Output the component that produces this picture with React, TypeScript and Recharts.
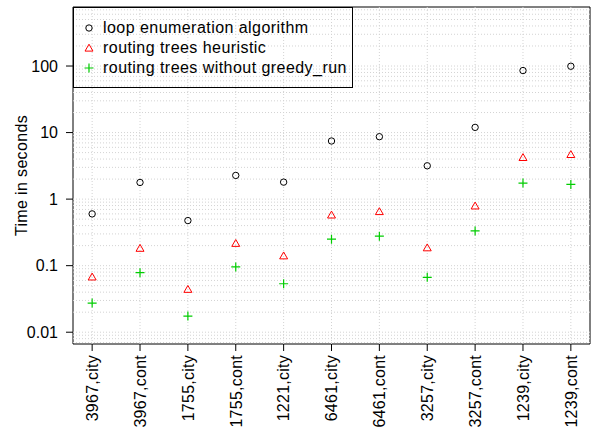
import React from 'react';
import {
  ComposedChart,
  Scatter,
  XAxis,
  YAxis,
  ReferenceLine,
  ReferenceArea,
} from 'recharts';

const categories = [
  '3967,city',
  '3967,cont',
  '1755,city',
  '1755,cont',
  '1221,city',
  '6461,city',
  '6461,cont',
  '3257,city',
  '3257,cont',
  '1239,city',
  '1239,cont',
];

const loopEnumeration = [0.6, 1.78, 0.476, 2.27, 1.8, 7.47, 8.67, 3.17, 11.97, 85.5, 99.3];
const routingHeuristic = [0.066, 0.178, 0.043, 0.211, 0.137, 0.563, 0.634, 0.181, 0.77, 4.12, 4.57];
const withoutGreedyRun = [0.0274, 0.0785, 0.0175, 0.0956, 0.0535, 0.25, 0.277, 0.0669, 0.333, 1.74, 1.66];

const yTicks = [0.01, 0.1, 1, 10, 100];
const yTickLabels = ['0.01', '0.1', '1', '10', '100'];
const yGridValues = [
  0.007, 0.008, 0.009,
  0.01, 0.02, 0.03, 0.04, 0.05, 0.06, 0.07, 0.08, 0.09,
  0.1, 0.2, 0.3, 0.4, 0.5, 0.6, 0.7, 0.8, 0.9,
  1, 2, 3, 4, 5, 6, 7, 8, 9,
  10, 20, 30, 40, 50, 60, 70, 80, 90,
  100, 200, 300, 400, 500, 600, 700,
];
const yDomain = [0.00665, 771];
const xDomain = [0.6, 11.4];
const xTicks = categories.map((_, i) => i + 1);

const seriesNames = [
  'loop enumeration algorithm',
  'routing trees heuristic',
  'routing trees without greedy_run',
];

const toPoints = (vals: number[]) => vals.map((v, i) => ({ x: i + 1, y: v }));
const loopData = toPoints(loopEnumeration);
const heurData = toPoints(routingHeuristic);
const greedyData = toPoints(withoutGreedyRun);

const FONT = '"Liberation Sans", Arial, Helvetica, sans-serif';
const GREEN = '#00CD00';
const RED = '#FF0000';

const CircleShape = (p: any) => (
  <circle cx={p.cx} cy={p.cy} r={3.2} fill="none" stroke="#000" strokeWidth={1} />
);
const triPath = (cx: number, cy: number) => {
  const r = 4.6;
  const hx = r * Math.sqrt(3) / 2;
  return `M${cx},${cy - r}L${cx + hx},${cy + r / 2}L${cx - hx},${cy + r / 2}Z`;
};
const TriangleShape = (p: any) => (
  <path d={triPath(p.cx, p.cy)} fill="none" stroke={RED} strokeWidth={1} />
);
const PlusShape = (p: any) => (
  <path
    d={`M${p.cx - 4.5},${p.cy}H${p.cx + 4.5}M${p.cx},${p.cy - 4.5}V${p.cy + 4.5}`}
    stroke={GREEN}
    strokeWidth={1.2}
    fill="none"
  />
);

const XTick = (p: any) => {
  const { x, y, payload } = p;
  const label = categories[payload.value - 1];
  return (
    <text
      x={x}
      y={y}
      transform={`rotate(-90, ${x}, ${y})`}
      textAnchor="end"
      dy="0.36em"
      fontSize={16}
      letterSpacing={0.25}
      fontFamily={FONT}
      fill="#000"
    >
      {label}
    </text>
  );
};

const YLabel = (p: any) => {
  const vb = p.viewBox || {};
  const cx = (vb.x || 0) + 27;
  const cy = (vb.y || 0) + (vb.height || 0) / 2;
  return (
    <text
      x={cx}
      y={cy}
      transform={`rotate(-90, ${cx}, ${cy})`}
      textAnchor="middle"
      fontSize={16}
      letterSpacing={0.35}
      fontFamily={FONT}
      fill="#000"
    >
      Time in seconds
    </text>
  );
};

const LegendIcon = ({ kind }: { kind: number }) => (
  <svg width={12} height={12} style={{ position: 'absolute', left: 9, top: 4 }}>
    {kind === 0 && <circle cx={6} cy={6} r={3.2} fill="none" stroke="#000" strokeWidth={1} />}
    {kind === 1 && <path d={triPath(6, 6.8)} fill="none" stroke={RED} strokeWidth={1} />}
    {kind === 2 && (
      <path d="M1.5,6H10.5M6,1.5V10.5" stroke={GREEN} strokeWidth={1.2} fill="none" />
    )}
  </svg>
);

export default function App() {
  return (
    <div style={{ position: 'absolute', left: 0, top: 0, width: 593, height: 435, background: '#fff' }}>
      <ComposedChart
        width={593}
        height={435}
        margin={{ top: 7, right: 3, bottom: 0, left: 0 }}
      >
        <XAxis
          type="number"
          dataKey="x"
          domain={xDomain}
          ticks={xTicks}
          interval={0}
          allowDataOverflow
          height={91}
          tickSize={7}
          tickMargin={4}
          axisLine={false}
          tickLine={{ stroke: '#000', strokeWidth: 1 }}
          tick={<XTick />}
        />
        <YAxis
          type="number"
          dataKey="y"
          scale="log"
          domain={yDomain}
          ticks={yTicks}
          interval={0}
          allowDataOverflow
          width={73}
          tickSize={7}
          tickMargin={8}
          axisLine={false}
          tickLine={{ stroke: '#000', strokeWidth: 1 }}
          tick={{ fontSize: 16, fontFamily: FONT, fill: '#000' }}
          tickFormatter={(v: number) => yTickLabels[yTicks.indexOf(v)] ?? String(v)}
          label={<YLabel />}
        />
        {yGridValues.map((v) => (
          <ReferenceLine
            key={'h' + v}
            y={v}
            stroke="#d3d3d3"
            strokeDasharray="1 2"
            strokeWidth={1}
          />
        ))}
        {xTicks.map((v) => (
          <ReferenceLine
            key={'v' + v}
            x={v}
            stroke="#d3d3d3"
            strokeDasharray="1 2"
            strokeWidth={1}
          />
        ))}
        <ReferenceArea
          x1={xDomain[0]}
          x2={xDomain[1]}
          y1={yDomain[0]}
          y2={yDomain[1]}
          fill="none"
          fillOpacity={0}
          stroke="#000"
          strokeWidth={1}
        />
        <Scatter name={seriesNames[0]} data={loopData} shape={CircleShape} isAnimationActive={false} />
        <Scatter name={seriesNames[1]} data={heurData} shape={TriangleShape} isAnimationActive={false} />
        <Scatter name={seriesNames[2]} data={greedyData} shape={PlusShape} isAnimationActive={false} />
      </ComposedChart>
      <div
        style={{
          position: 'absolute',
          left: 73,
          top: 7,
          width: 280,
          height: 81,
          boxSizing: 'border-box',
          border: '1px solid #000',
          fontFamily: FONT,
          fontSize: 16,
          letterSpacing: 0.45,
          color: '#000',
          paddingTop: 10,
        }}
      >
        {seriesNames.map((n, i) => (
          <div key={n} style={{ position: 'relative', height: 20, lineHeight: '20px', paddingLeft: 29, whiteSpace: 'nowrap' }}>
            <LegendIcon kind={i} />
            {n}
          </div>
        ))}
      </div>
    </div>
  );
}
